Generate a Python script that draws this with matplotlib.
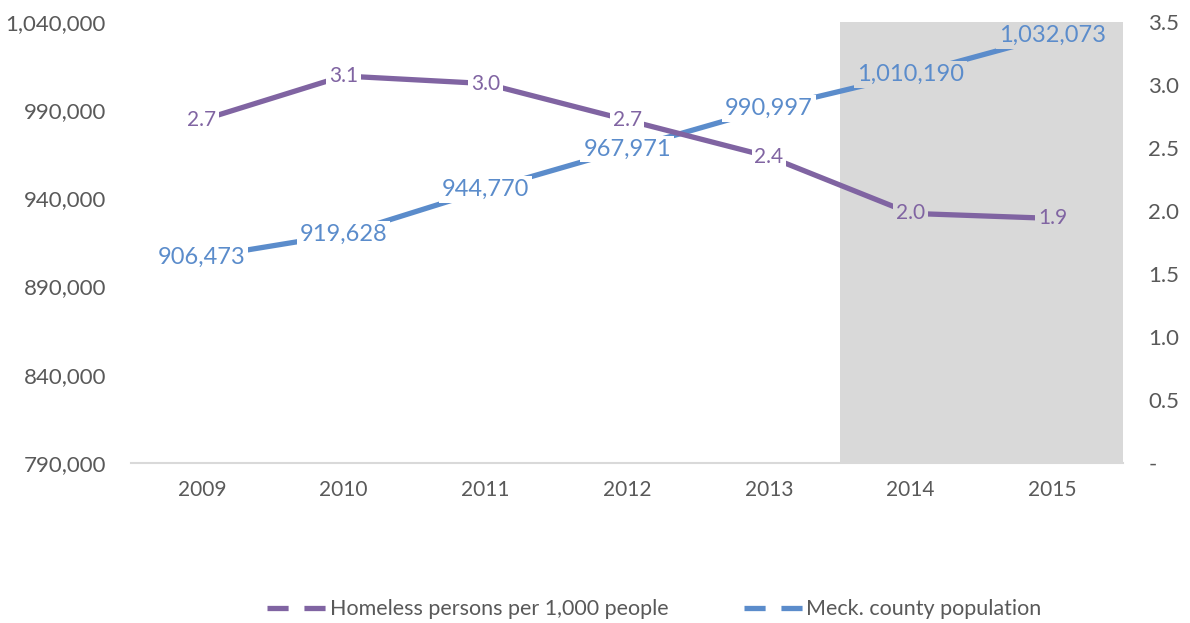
import numpy as np
import matplotlib
matplotlib.use("Agg")
import matplotlib.pyplot as plt
from matplotlib.lines import Line2D
from matplotlib.ticker import FuncFormatter

years = ["2009", "2010", "2011", "2012", "2013", "2014", "2015"]
population = [906473, 919628, 944770, 967971, 990997, 1010190, 1032073]
homeless_rate = [2.72, 3.07, 3.01, 2.72, 2.43, 1.98, 1.94]
shaded_years = ["2014", "2015"]

PURPLE = "#8064A2"
BLUE = "#5B8CCB"
GREY = "#D9D9D9"
TXT = "#595959"

plt.rcParams["font.family"] = ["Lato", "DejaVu Sans"]

fig = plt.figure(figsize=(11.9, 6.23), dpi=100)
ax = fig.add_axes([0.110, 0.257, 0.834, 0.708])
ax2 = ax.twinx()

x = np.arange(len(years))
i0 = years.index(shaded_years[0])
ax.axvspan(i0 - 0.5, len(years) - 0.5, color=GREY, lw=0, zorder=0)

ax.plot(x, population, color=BLUE, lw=3.8, solid_capstyle="butt", zorder=2)
ax2.plot(x, homeless_rate, color=PURPLE, lw=3.8, solid_capstyle="butt", zorder=2)

ax.set_xlim(-0.5, len(years) - 0.5)
ax.set_ylim(790000, 1040000)
ax.set_yticks(np.arange(790000, 1040001, 50000))
ax.yaxis.set_major_formatter(FuncFormatter(lambda v, p: f"{v:,.0f}"))
ax2.set_ylim(0, 3.5)
ax2.set_yticks(np.arange(0, 3.51, 0.5))
ax2.yaxis.set_major_formatter(FuncFormatter(lambda v, p: "-" if v == 0 else f"{v:.1f}"))
ax.set_xticks(x)
ax.set_xticklabels(years)

for a in (ax, ax2):
    for s in a.spines.values():
        s.set_visible(False)
    a.tick_params(length=0, labelsize=16, colors=TXT)
ax.spines["bottom"].set_visible(True)
ax.spines["bottom"].set_color(GREY)
ax.spines["bottom"].set_linewidth(1.5)
ax.tick_params(axis="y", pad=18)
ax.tick_params(axis="x", pad=12, labelsize=15)
ax2.tick_params(axis="y", pad=18)

# data labels (drawn on ax2 so they sit over both lines)
for i, v in enumerate(homeless_rate):
    bg = GREY if i >= i0 else "white"
    ax2.text(i, v, f"{v:.1f}", color=PURPLE, fontsize=15, ha="center", va="center",
             bbox=dict(facecolor=bg, edgecolor="none", pad=2), zorder=5)
for i, v in enumerate(population):
    bg = GREY if i >= i0 else "white"
    ax2.text(i, v, f"{v:,}", color=BLUE, fontsize=17, ha="center", va="center",
             transform=ax.transData,
             bbox=dict(facecolor=bg, edgecolor="none", pad=2), zorder=6)

handles = [Line2D([], [], color=PURPLE, lw=3.8, dashes=(4, 3)),
           Line2D([], [], color=BLUE, lw=3.8, dashes=(4, 3))]
fig.legend(handles, ["Homeless persons per 1,000 people", "Meck. county population"],
           loc="center", bbox_to_anchor=(0.55, 0.022), ncol=2, frameon=False,
           fontsize=15.5, labelcolor=TXT, handlelength=2.8, handletextpad=0.1,
           columnspacing=3.5)

fig.savefig("out.png", dpi=100)
